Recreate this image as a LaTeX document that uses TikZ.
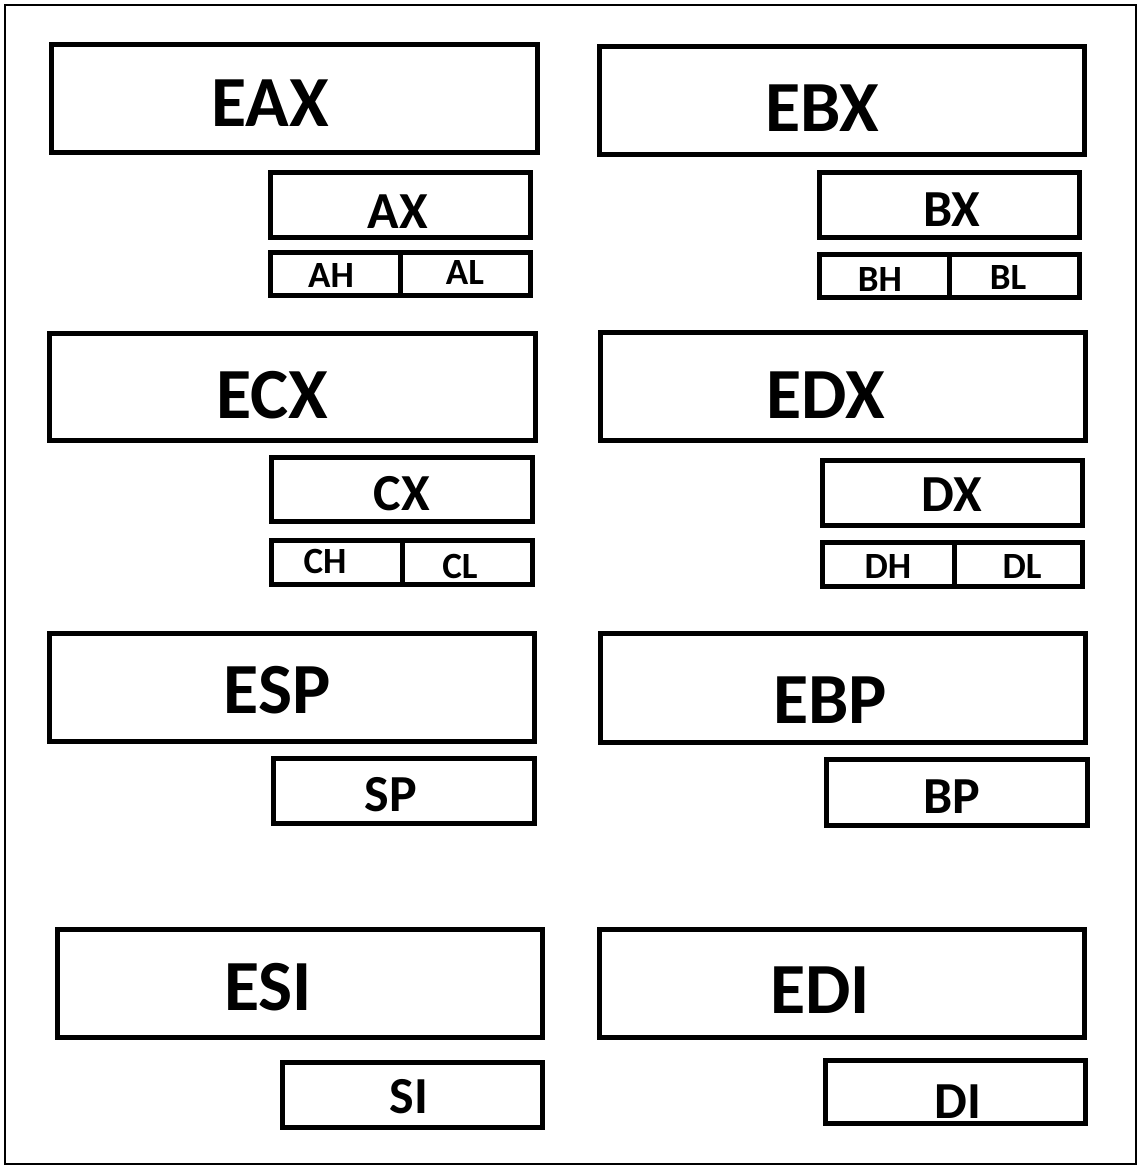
\documentclass[tikz,border=0pt]{standalone}
\usepackage{fontspec}
\setmainfont{Carlito}
\begin{document}
\begin{tikzpicture}[x=1pt,y=-1pt,
  box/.style={draw=black, line width=5pt, fill=white, inner sep=0pt, outer sep=0pt},
  big/.style={inner sep=0pt, font=\fontsize{72}{72}\selectfont\bfseries},
  mid/.style={inner sep=0pt, font=\fontsize{52}{52}\selectfont\bfseries},
  small/.style={inner sep=0pt, font=\fontsize{37}{37}\selectfont\bfseries}]
% register box from outer corners (x1,y1) to (x2,y2)
\newcommand\rbox[5]{\node[box, minimum width={#4-#2-5}, minimum height={#5-#3-5}] (#1) at ({(#2+#4)/2},{(#3+#5)/2}) {};}
\useasboundingbox (0,0) rectangle (1141,1168);
\fill[white] (0,0) rectangle (1141,1168);
\draw[line width=2.5pt] (5,5) rectangle (1136,1164);

% EAX group
\rbox{eax}{49}{42}{540}{155}
\rbox{ax}{268}{170}{533}{240}
\rbox{ah}{268}{250}{403}{298}
\rbox{al}{398}{250}{533}{298}
\node[big] (eaxt) at (270,103) {EAX};
\node[mid] (axt) at (398,212) {AX};
\node[small] (aht) at (331,275) {AH};
\node[small] (alt) at (465,272) {AL};

% EBX group
\rbox{ebx}{597}{44}{1087}{157}
\rbox{bx}{817}{170}{1082}{240}
\rbox{bh}{817}{252}{952}{300}
\rbox{bl}{947}{252}{1082}{300}
\node[big] (ebxt) at (822,108) {EBX};
\node[mid] (bxt) at (952,210) {BX};
\node[small] (bht) at (880,279) {BH};
\node[small] (blt) at (1008,277) {BL};

% ECX group
\rbox{ecx}{47}{331}{538}{443}
\rbox{cx}{269}{455}{535}{524}
\rbox{ch}{269}{538}{405}{587}
\rbox{cl}{400}{538}{535}{587}
\node[big] (ecxt) at (272,395) {ECX};
\node[mid] (cxt) at (402,494) {CX};
\node[small] (cht) at (325,561) {CH};
\node[small] (clt) at (460,566) {CL};

% EDX group
\rbox{edx}{598}{330}{1088}{443}
\rbox{dx}{820}{458}{1085}{528}
\rbox{dh}{820}{540}{957}{589}
\rbox{dl}{952}{540}{1085}{589}
\node[big] (edxt) at (826,395) {EDX};
\node[mid] (dxt) at (952,495) {DX};
\node[small] (dht) at (888,566) {DH};
\node[small] (dlt) at (1022,566) {DL};

% ESP / EBP
\rbox{esp}{47}{631}{537}{744}
\rbox{sp}{271}{756}{537}{826}
\node[big] (espt) at (277,690) {ESP};
\node[mid] (spt) at (391,795) {SP};
\rbox{ebp}{598}{631}{1088}{745}
\rbox{bp}{824}{757}{1090}{828}
\node[big] (ebpt) at (830,700) {EBP};
\node[mid] (bpt) at (952,797) {BP};

% ESI / EDI
\rbox{esi}{55}{927}{545}{1040}
\rbox{si}{280}{1060}{545}{1130}
\node[big] (esit) at (268,987) {ESI};
\node[mid] (sit) at (409,1097) {SI};
\rbox{edi}{597}{927}{1087}{1040}
\rbox{di}{823}{1058}{1088}{1126}
\node[big] (edit) at (820,990) {EDI};
\node[mid] (dit) at (958,1102) {DI};
\end{tikzpicture}
\end{document}
